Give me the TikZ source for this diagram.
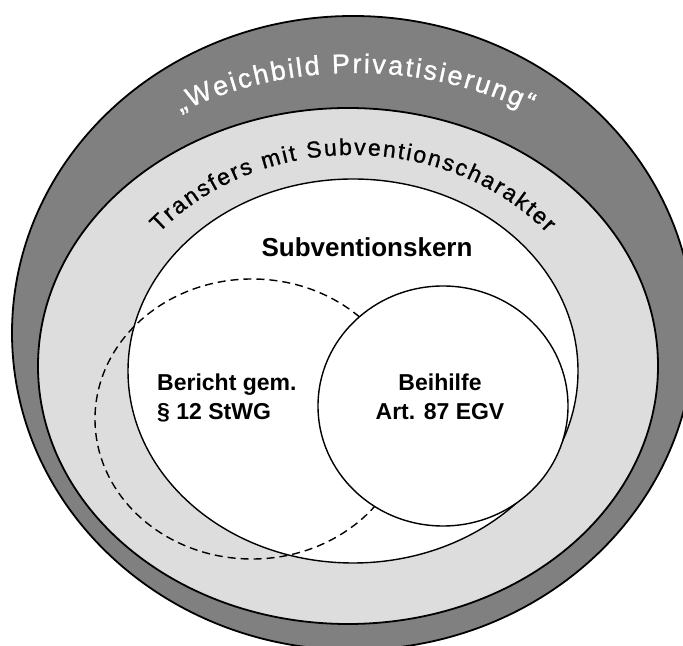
\documentclass[tikz,border=0pt]{standalone}
\usepackage{fontspec}
\setmainfont{Liberation Sans}
\newfontfamily\arcfont{Liberation Sans}[FakeBold=1]
\usetikzlibrary{decorations.text}
\definecolor{darkband}{gray}{0.5}
\definecolor{lightband}{gray}{0.865}
\newcommand\wbfont{\arcfont\fontsize{27bp}{27bp}\selectfont}
\newcommand\trfont{\arcfont\fontsize{23bp}{23bp}\selectfont}
\begin{document}
\begin{tikzpicture}[x=1bp,y=1bp,
  ring/.style={draw=black, line width=1.8bp},
  inner/.style={draw=black, line width=1.4bp},
  dashring/.style={draw=black, line width=1.4bp, dash pattern=on 8bp off 5bp},
  label/.style={font=\fontsize{23bp}{29bp}\selectfont\bfseries, inner sep=0pt},
]
\useasboundingbox (0,0) rectangle (683,646);
\clip (0,0) rectangle (683,646);
\fill[white] (0,0) rectangle (683,646);
% bands
\path[ring, fill=darkband] (353,313) ellipse [x radius=341, y radius=317];
\path[ring, fill=lightband] (348,280) ellipse [x radius=310, y radius=258];
\path[inner, fill=white] (353,275) ellipse [x radius=225, y radius=192];
\path[dashring] (252,227) ellipse [x radius=157, y radius=140];
\path[inner, fill=white] (443,240) ellipse [x radius=125, y radius=120];
% arc texts
\path[font=\wbfont, decorate, decoration={text effects along path,
   text={„Weichbild Privatisierung“}, text align=center,
   text effects/.cd, text along path,
   character widths={font=\wbfont, inner xsep=1.1bp},
   characters={text=white, font=\wbfont, inner xsep=1.1bp}}]
   (355,313) ++(150:330 and 260) arc[start angle=150, end angle=30, x radius=330, y radius=260];
\path[font=\trfont, decorate, decoration={text effects along path,
   text={Transfers mit Subventionscharakter}, text align=center,
   text effects/.cd, text along path,
   character widths={font=\trfont, inner xsep=1bp},
   characters={text=black, font=\trfont, inner xsep=1bp}}]
   (353,275) ++(165:252 and 216) arc[start angle=165, end angle=15, x radius=252, y radius=216];
% labels
\node[label, font=\fontsize{26bp}{30bp}\selectfont\bfseries] (kern) at (367,399) {Subventionskern};
\node[label, align=left, anchor=west] (bericht) at (157,248.5) {Bericht gem.\\§ 12 StWG};
\node[label, align=center] (beihilfe) at (440,249.5) {Beihilfe\\Art. 87 EGV};
\end{tikzpicture}
\end{document}
